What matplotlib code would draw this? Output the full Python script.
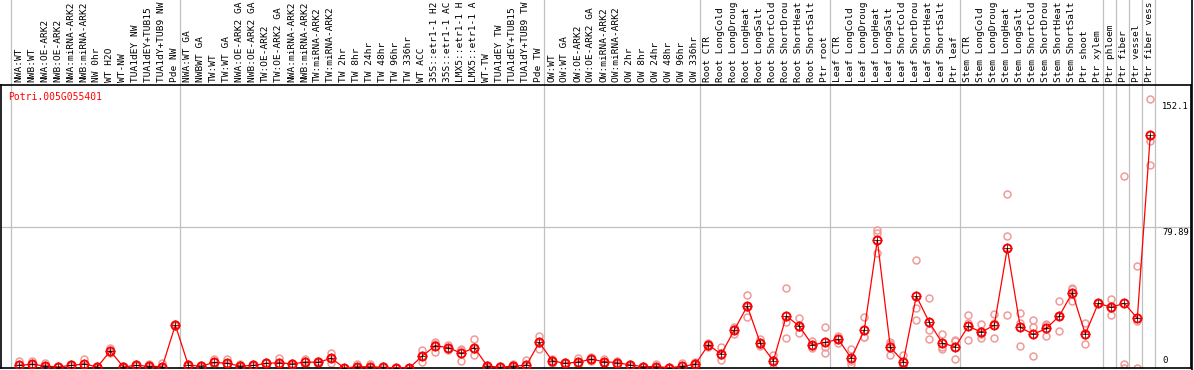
import numpy as np
import matplotlib
matplotlib.use('Agg')
import matplotlib.pyplot as plt
from matplotlib.transforms import offset_copy

gene = 'Potri.005G055401'

samples = ['NWA:WT', 'NWB:WT', 'NWA:OE-ARK2', 'NWB:OE-ARK2', 'NWA:miRNA-ARK2', 'NWB:miRNA-ARK2',
           'NW 0hr', 'WT H2O', 'WT-NW', 'TUA1dEY NW', 'TUA1dEY+TUB15 NW', 'TUA1dY+TUB9 NW', 'Pde NW',
           'NWA:WT GA', 'NWBWT GA', 'TW:WT', 'TW:WT GA', 'NWA:OE-ARK2 GA', 'NWB:OE-ARK2 GA',
           'TW:OE-ARK2', 'TW:OE-ARK2 GA', 'NWA:miRNA-ARK2 GA', 'NWB:miRNA-ARK2 GA', 'TW:miRNA-ARK2',
           'TW:miRNA-ARK2 GA', 'TW 2hr', 'TW 8hr', 'TW 24hr', 'TW 48hr', 'TW 96hr', 'TW 336hr',
           'WT ACC', '35S::etr1-1 H2O', '35S::etr1-1 ACC', 'LMX5::etr1-1 H2O', 'LMX5::etr1-1 ACC',
           'WT-TW', 'TUA1dEY TW', 'TUA1dEY+TUB15 TW', 'TUA1dY+TUB9 TW', 'Pde TW',
           'OW:WT', 'OW:WT GA', 'OW:OE-ARK2', 'OW:OE-ARK2 GA', 'OW:miRNA-ARK2', 'OW:miRNA-ARK2 GA',
           'OW 2hr', 'OW 8hr', 'OW 24hr', 'OW 48hr', 'OW 96hr', 'OW 336hr',
           'Root CTR', 'Root LongCold', 'Root LongDrought', 'Root LongHeat', 'Root LongSalt',
           'Root ShortCold', 'Root ShortDrought', 'Root ShortHeat', 'Root ShortSalt', 'Ptr root',
           'Leaf CTR', 'Leaf LongCold', 'Leaf LongDrought', 'Leaf LongHeat', 'Leaf LongSalt',
           'Leaf ShortCold', 'Leaf ShortDrought', 'Leaf ShortHeat', 'Leaf ShortSalt', 'Ptr leaf',
           'Stem CTR', 'Stem LongCold', 'Stem LongDrought', 'Stem LongHeat', 'Stem LongSalt',
           'Stem ShortCold', 'Stem ShortDrought', 'Stem ShortHeat', 'Stem ShortSalt', 'Ptr shoot',
           'Ptr xylem', 'Ptr phloem', 'Ptr fiber', 'Ptr vessel', 'Ptr fiber vessel']

means = [1.5, 2.1, 1.1, 0.6, 1.5, 2.3, 0.6, 9.6, 0.6, 1.5, 1.0, 0.8, 24.3,
         1.5, 1.1, 3.2, 2.6, 1.1, 1.5, 2.6, 3.0, 2.3, 3.4, 3.2, 5.5, 0.0, 0.7, 0.7, 0.4, 0.0, 0.0,
         6.8, 12.6, 11.5, 8.3, 11.5, 1.1, 0.4, 1.1, 1.5, 14.5,
         4.0, 2.6, 3.4, 4.9, 3.6, 3.0, 1.7, 0.8, 0.8, 0.2, 0.9, 2.1,
         13.0, 7.9, 21.5, 35.0, 14.0, 4.0, 29.4, 23.7, 13.0, 14.5,
         16.2, 5.5, 21.5, 72.4, 11.7, 3.6, 40.7, 25.8, 14.0, 12.0,
         23.7, 20.2, 24.3, 67.7, 23.0, 19.0, 22.4, 29.4, 42.6, 19.2,
         36.6, 34.3, 36.6, 28.1, 131.7]

reps = [(3.8, 0.5, 0.2), (4.0, 1.5, 0.8), (3.0, 0.3, 0.0), (1.0, 0.5, 0.3), (2.0, 1.5, 1.0),
        (4.9, 1.2, 0.8), (1.2, 0.4, 0.2), (11.5, 8.9, 8.4), (1.2, 0.4, 0.2), (2.0, 1.5, 1.0),
        (2.0, 0.6, 0.4), (3.0, 0.0, 0.0), (24.8, 24.3, 23.8),
        (2.0, 1.5, 1.0), (1.6, 1.0, 0.7), (5.0, 3.5, 1.1), (4.9, 2.0, 0.9), (2.0, 0.8, 0.5),
        (2.0, 1.5, 1.0), (3.5, 2.6, 1.1), (5.5, 2.5, 1.0), (3.0, 2.3, 1.6), (4.9, 4.0, 1.1),
        (4.0, 3.2, 2.4), (8.3, 5.6, 2.6), (0.0, 0.0, 0.0), (2.0, 0.0, 0.0), (2.0, 0.0, 0.0),
        (1.1, 0.0, 0.0), (0.0, 0.0, 0.0), (0.0, 0.0, 0.0),
        (10.2, 6.6, 3.6), (14.9, 13.7, 9.2), (13.0, 11.3, 10.2), (10.2, 10.7, 4.0),
        (16.4, 10.8, 7.3), (1.5, 1.1, 0.7), (1.2, 0.0, 0.0), (2.0, 1.0, 0.3), (4.4, 0.0, 0.0),
        (18.3, 14.3, 10.9),
        (4.9, 4.0, 3.1), (3.4, 2.6, 1.8), (5.5, 3.0, 1.7), (6.0, 4.9, 3.8), (4.9, 3.6, 2.3),
        (3.7, 3.0, 2.3), (2.0, 1.7, 1.4), (1.0, 0.8, 0.6), (2.1, 0.3, 0.0), (0.5, 0.0, 0.0),
        (2.6, 0.0, 0.0), (3.4, 2.0, 0.9),
        (14.0, 13.0, 12.0), (12.0, 7.3, 4.5), (23.3, 22.0, 19.2), (41.3, 34.7, 29.0),
        (16.2, 13.2, 12.6), (7.3, 4.7, 0.0), (45.4, 25.9, 16.8), (28.1, 23.4, 19.6),
        (15.3, 12.6, 11.1), (23.3, 11.6, 8.6),
        (18.3, 16.3, 14.0), (10.7, 3.7, 2.1), (29.0, 17.8, 17.7), (78.0, 76.1, 64.8),
        (14.5, 13.3, 7.3), (7.3, 1.8, 1.7), (61.0, 33.7, 27.4), (39.7, 21.5, 16.4),
        (19.2, 12.1, 10.7), (15.3, 15.6, 5.1),
        (30.0, 25.3, 15.8), (24.9, 19.0, 16.8), (30.5, 25.3, 17.1), (98.2, 74.6, 30.0),
        (30.9, 25.5, 12.6), (27.1, 23.1, 6.8), (24.3, 24.6, 18.3), (37.9, 29.4, 20.9),
        (45.0, 44.9, 37.9), (25.3, 18.9, 13.4),
        (36.6, 36.6, 36.6), (39.0, 34.0, 30.0), (108.4, 2.3, 0.0), (57.7, 26.6, 0.0),
        (152.1, 128.3, 114.8)]

# first sample index of each group (last entry closes the final group)
group_starts = [0, 13, 41, 53, 63, 73, 84, 85, 86, 87, 88]
yticks = [152.1, 79.89, 0]
max_chars = 14  # label strip only fits this many characters

W, H = 1194, 370
fig = plt.figure(figsize=(W / 100, H / 100), dpi=100)
ax = fig.add_axes([1 / W, 2 / H, 1190 / W, 283 / H])

x = np.arange(len(samples))
ax.set_xlim(-1.41, 90.13)
ax.set_ylim(0, 160)

for s in group_starts:
    ax.axvline(s - 0.66, ymin=0, ymax=1.31, color='#c0c0c0', lw=0.9, clip_on=False, zorder=1)
ax.axhline(79.89, color='#c0c0c0', lw=0.9, zorder=1)

rx = np.repeat(x, 3)
ry = np.array(reps).ravel()
ax.plot(rx, ry, 'o', ms=5, mfc='none', mec='#f09a9a', mew=1.1, zorder=2)

ax.plot(x, means, '-', color='red', lw=0.9, zorder=3)
ax.plot(x, means, '+', ms=6.5, color='black', mew=0.5, zorder=4)
ax.plot(x, means, 'o', ms=5.8, mfc='none', mec='red', mew=1.4, zorder=5)

mono = 'DejaVu Sans Mono'
lab_tr = offset_copy(ax.get_xaxis_transform(), fig=fig, y=3, units='dots')
for i, name in enumerate(samples):
    ax.text(i - 0.05, 1.0, name[:max_chars], transform=lab_tr, rotation=90, ha='left', va='center',
            rotation_mode='anchor', family=mono, fontsize=6.8, clip_on=False)

# right side value labels
tick_tr = ax.get_yaxis_transform()
tx = 0.9757
ax.text(tx, yticks[0], '%g' % yticks[0], transform=offset_copy(tick_tr, fig=fig, y=-3, units='dots'),
        ha='left', va='top', family=mono, fontsize=6.4)
ax.text(tx, yticks[1], '%g' % yticks[1], transform=offset_copy(tick_tr, fig=fig, y=-1, units='dots'),
        ha='left', va='top', family=mono, fontsize=6.4)
ax.text(tx, yticks[2], '%g' % yticks[2], transform=offset_copy(tick_tr, fig=fig, y=3, units='dots'),
        ha='left', va='bottom', family=mono, fontsize=6.4)

fig.text(8 / W, 1 - 92 / H, gene, color='red', family=mono, fontsize=7, ha='left', va='top')

ax.set_xticks([])
ax.set_yticks([])
for sp in ax.spines.values():
    sp.set_linewidth(1.2)
# right border continues up through the label area
fig.add_artist(plt.Line2D([1191.5 / W, 1191.5 / W], [0, 1], color='black', lw=1.2))

fig.savefig('out.png', dpi=100)
